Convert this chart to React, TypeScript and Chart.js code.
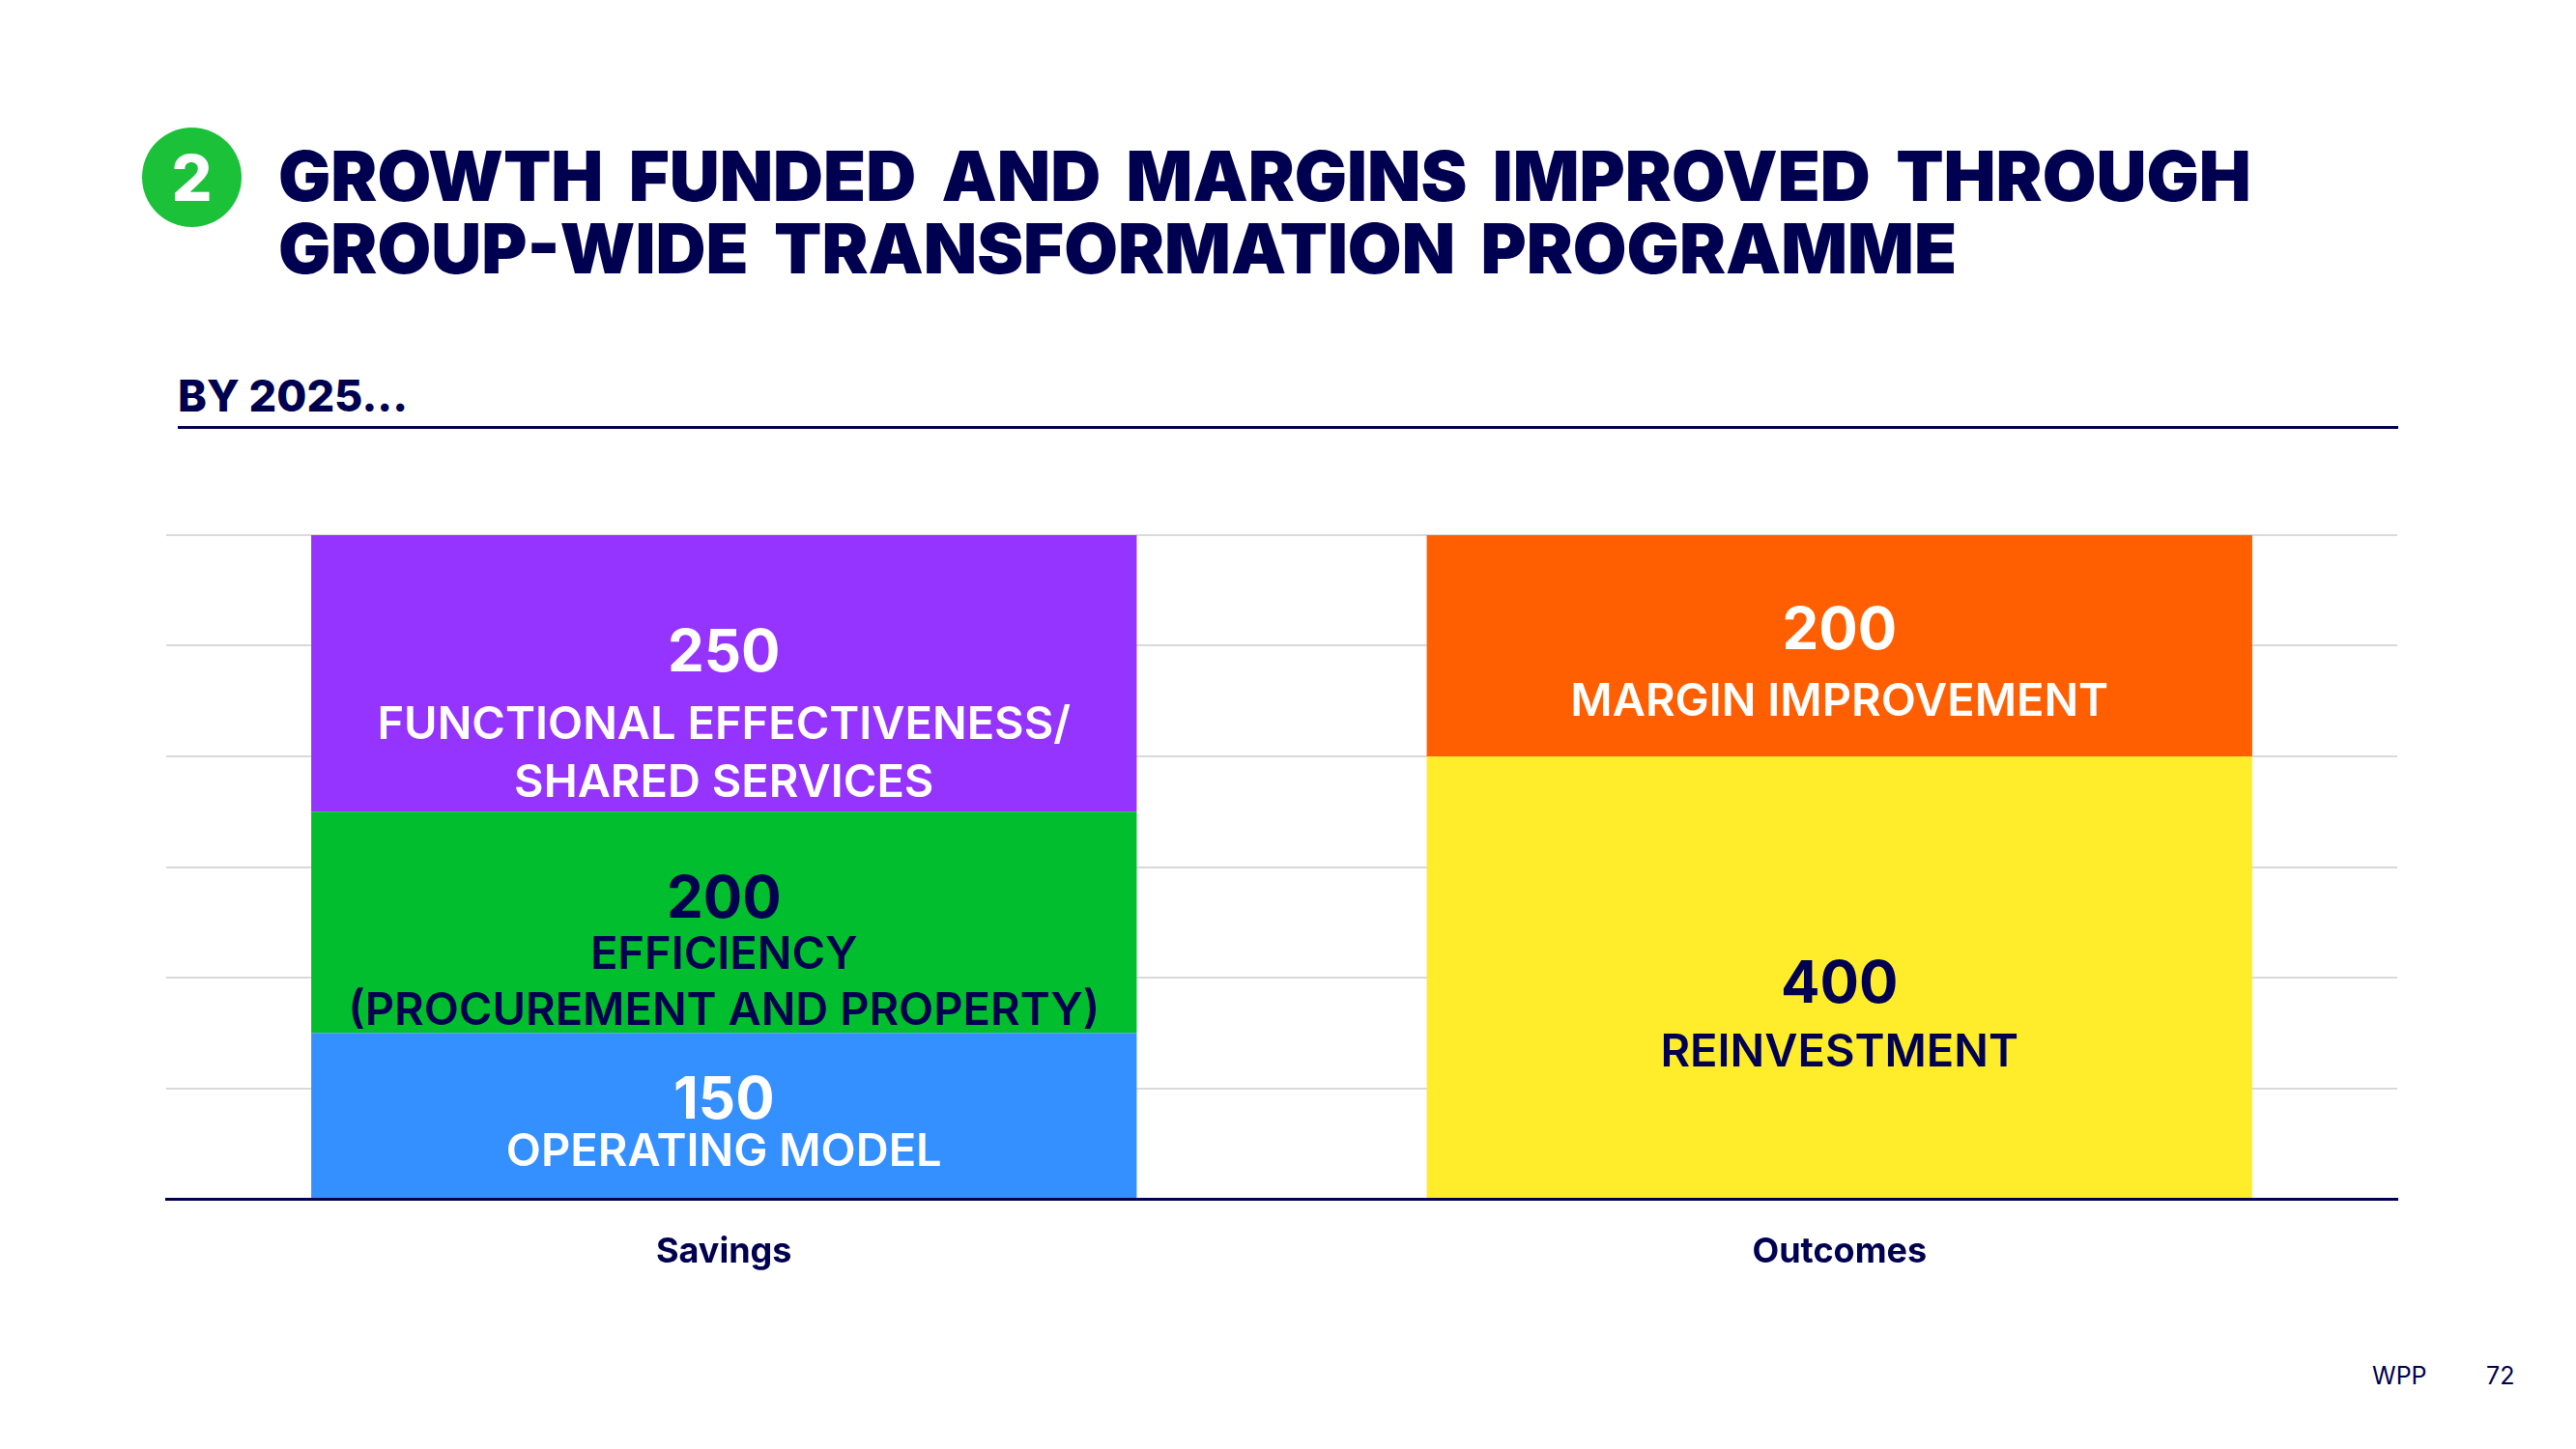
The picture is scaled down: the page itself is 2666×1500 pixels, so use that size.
import React, { useEffect, useRef } from "react";
import { Chart, registerables } from "chart.js";

Chart.register(...registerables);

// ---------- data ----------
const categories = ["Savings", "Outcomes"];
const seriesNames = [
  "Operating model",
  "Efficiency",
  "Functional effectiveness / shared services",
  "Reinvestment",
  "Margin improvement",
];
const operatingModel = [150, null];
const efficiency = [200, null];
const functionalEffectiveness = [250, null];
const reinvestment = [null, 400];
const marginImprovement = [null, 200];
const seriesCaptions = [
  ["OPERATING MODEL"],
  ["EFFICIENCY", "(PROCUREMENT AND PROPERTY)"],
  ["FUNCTIONAL EFFECTIVENESS/", "SHARED SERVICES"],
  ["REINVESTMENT"],
  ["MARGIN IMPROVEMENT"],
];
const yMin = 0;
const yMax = 600;
const yStep = 100;

// ---------- style ----------
const NAVY = "#000050";
const FONT = "Inter, 'Noto Sans', sans-serif";
const seriesColors = ["#3590FF", "#00BE2D", "#9533FF", "#FFEC2B", "#FF5F00"];
const textColors = ["#FFFFFF", NAVY, "#FFFFFF", NAVY, "#FFFFFF"];
// offsets (px) of the value from the segment centre, then gap to first caption line and line pitch
const labelLayout = [
  { numberDy: -18, gap: 53, pitch: 0 },
  { numberDy: -27, gap: 58, pitch: 58 },
  { numberDy: -24, gap: 75, pitch: 60 },
  { numberDy: 5, gap: 70, pitch: 0 },
  { numberDy: -18, gap: 73, pitch: 0 },
];
const NUM_SIZE = 60;
const CAP_SIZE = 47;
const CAP_RATIO = 0.3635; // half of Inter cap height / em

const segmentLabelPlugin = {
  id: "segmentLabels",
  afterDatasetsDraw(chart: any) {
    const ctx = chart.ctx;
    chart.data.datasets.forEach((ds: any, di: number) => {
      const meta = chart.getDatasetMeta(di);
      meta.data.forEach((el: any, i: number) => {
        const v = ds.data[i];
        if (v == null) return;
        const { x, y, base } = el.getProps(["x", "y", "base"], true);
        const cy = (y + base) / 2;
        const lay = labelLayout[di];
        ctx.save();
        ctx.fillStyle = textColors[di];
        ctx.textAlign = "center";
        ctx.textBaseline = "alphabetic";
        const ny = cy + lay.numberDy;
        ctx.font = `700 ${NUM_SIZE}px ${FONT}`;
        ctx.fillText(String(v), x, ny + NUM_SIZE * CAP_RATIO);
        ctx.font = `600 ${CAP_SIZE}px ${FONT}`;
        seriesCaptions[di].forEach((line, li) => {
          ctx.fillText(line, x, ny + lay.gap + li * lay.pitch + CAP_SIZE * CAP_RATIO);
        });
        ctx.restore();
      });
    });
  },
};

function ChartCanvas() {
  const ref = useRef<HTMLCanvasElement | null>(null);
  useEffect(() => {
    if (!ref.current) return;
    const seriesData = [operatingModel, efficiency, functionalEffectiveness, reinvestment, marginImprovement];
    const chart = new Chart(ref.current, {
      type: "bar",
      data: {
        labels: categories,
        datasets: seriesData.map((d, i) => ({
          label: seriesNames[i],
          data: d,
          backgroundColor: seriesColors[i],
          borderWidth: 0,
          categoryPercentage: 1,
          barPercentage: 0.74,
        })),
      },
      options: {
        responsive: false,
        animation: false,
        devicePixelRatio: 1,
        layout: { padding: { left: 172, right: 185, top: 74, bottom: 0 } },
        plugins: { legend: { display: false }, tooltip: { enabled: false }, title: { display: false } },
        scales: {
          x: {
            stacked: true,
            grid: { display: true, drawOnChartArea: false, drawTicks: false },
            border: { display: true, color: NAVY, width: 3 },
            ticks: {
              color: NAVY,
              padding: 34,
              font: { family: FONT, size: 36, weight: "bold" },
            },
            afterFit: (s: any) => {
              s.height = 80;
            },
          },
          y: {
            stacked: true,
            min: yMin,
            max: yMax,
            ticks: { display: false, stepSize: yStep },
            grid: { color: "#D9D9D9", lineWidth: 2, drawTicks: false },
            border: { display: false },
            afterFit: (s: any) => {
              s.width = 0;
            },
          },
        },
      },
      plugins: [segmentLabelPlugin],
    } as any);
    return () => chart.destroy();
  }, []);
  return (
    <canvas
      ref={ref}
      width={2666}
      height={841}
      style={{ position: "absolute", left: 0, top: 480, width: 2666, height: 841 }}
    />
  );
}

export default function App() {
  return (
    <div
      style={{
        position: "absolute",
        left: 0,
        top: 0,
        width: 2666,
        height: 1500,
        background: "#FFFFFF",
        overflow: "hidden",
        fontFamily: FONT,
        color: NAVY,
      }}
    >
      <div
        style={{
          position: "absolute",
          left: 147,
          top: 132,
          width: 103,
          height: 103,
          borderRadius: "50%",
          background: "#1CC13A",
          color: "#FFFFFF",
          display: "flex",
          alignItems: "center",
          justifyContent: "center",
          fontSize: 66,
          fontWeight: 800,
          lineHeight: 1,
        }}
      >
        2
      </div>
      <div
        style={{
          position: "absolute",
          left: 288,
          top: 144,
          fontSize: 72,
          fontWeight: 900,
          lineHeight: "75px",
          letterSpacing: "0px",
          wordSpacing: "12px",
          whiteSpace: "nowrap",
        }}
      >
        GROWTH FUNDED AND MARGINS IMPROVED THROUGH
        <br />
        GROUP-WIDE TRANSFORMATION PROGRAMME
      </div>
      <div
        style={{
          position: "absolute",
          left: 184,
          top: 387,
          fontSize: 45,
          fontWeight: 800,
          lineHeight: 1,
          whiteSpace: "nowrap",
        }}
      >
        BY 2025...
      </div>
      <div style={{ position: "absolute", left: 184, top: 441, width: 2298, height: 3, background: NAVY }} />
      <ChartCanvas />
      <div style={{ position: "absolute", left: 2455, top: 1412, fontSize: 25, fontWeight: 400, lineHeight: 1 }}>WPP</div>
      <div style={{ position: "absolute", left: 2573, top: 1412, fontSize: 25, fontWeight: 400, lineHeight: 1 }}>72</div>
    </div>
  );
}
